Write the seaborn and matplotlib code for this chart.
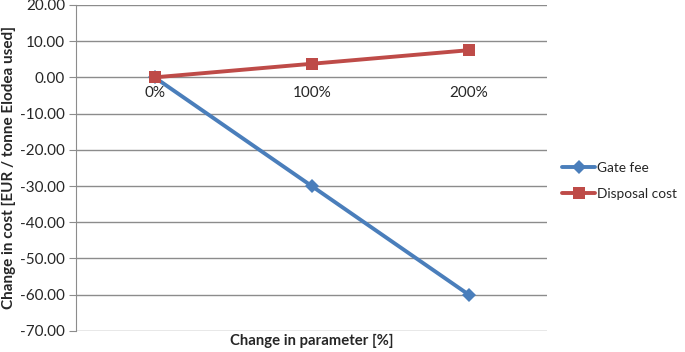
import pandas as pd
import matplotlib
matplotlib.use("Agg")
import matplotlib.pyplot as plt
import seaborn as sns

params = ["0%", "100%", "200%"]
gate_fee = [0.0, -30.0, -60.0]
disposal_cost = [0.0, 3.75, 7.5]

df = pd.DataFrame({
    "param": params * 2,
    "cost": gate_fee + disposal_cost,
    "series": ["Gate fee"] * 3 + ["Disposal cost"] * 3,
})

sns.set_style("white")
plt.rcParams["font.family"] = ["Lato", "DejaVu Sans"]

fig = plt.figure(figsize=(6.85, 3.52), dpi=100)
ax = fig.add_axes([0.111, 0.06, 0.688, 0.926])

colors = {"Gate fee": "#4A7EBB", "Disposal cost": "#BE4B48"}
markers = {"Gate fee": "D", "Disposal cost": "s"}
sizes = {"Gate fee": 7, "Disposal cost": 9}

for name in ["Gate fee", "Disposal cost"]:
    sub = df[df["series"] == name]
    sns.lineplot(data=sub, x="param", y="cost", ax=ax, color=colors[name],
                 marker=markers[name], markersize=sizes[name], markeredgewidth=0,
                 linewidth=2.8, label=name, sort=False)

ax.set_ylim(-70, 20)
ax.set_xlim(-0.5, 2.5)
ax.set_yticks(range(-70, 21, 10))
ax.set_yticklabels([f"{v:.2f}" for v in range(-70, 21, 10)], fontsize=11)
ax.yaxis.grid(True, color="#8c8c8c", linewidth=1)
ax.set_axisbelow(True)

for s in ["top", "right"]:
    ax.spines[s].set_visible(False)
ax.spines["left"].set_color("#8c8c8c")
ax.spines["bottom"].set_position(("data", 0))
ax.spines["bottom"].set_visible(False)
ax.tick_params(axis="y", length=5, color="#8c8c8c", left=True, pad=3)
ax.tick_params(axis="x", length=0, labelsize=11, pad=6)

ax.set_xlabel("")
ax.set_ylabel("Change in cost [EUR / tonne Elodea used]", fontsize=11, fontweight="bold", labelpad=3)
fig.text(0.455, 0.012, "Change in parameter [%]", ha="center", va="bottom",
         fontsize=10.7, fontweight="bold")

ax.legend(loc="center left", bbox_to_anchor=(1.012, 0.46), frameon=False,
          fontsize=9.8, handlelength=2.4, handletextpad=0.1, labelspacing=1.0,
          borderaxespad=0.3)

fig.savefig("out.png", dpi=100)
